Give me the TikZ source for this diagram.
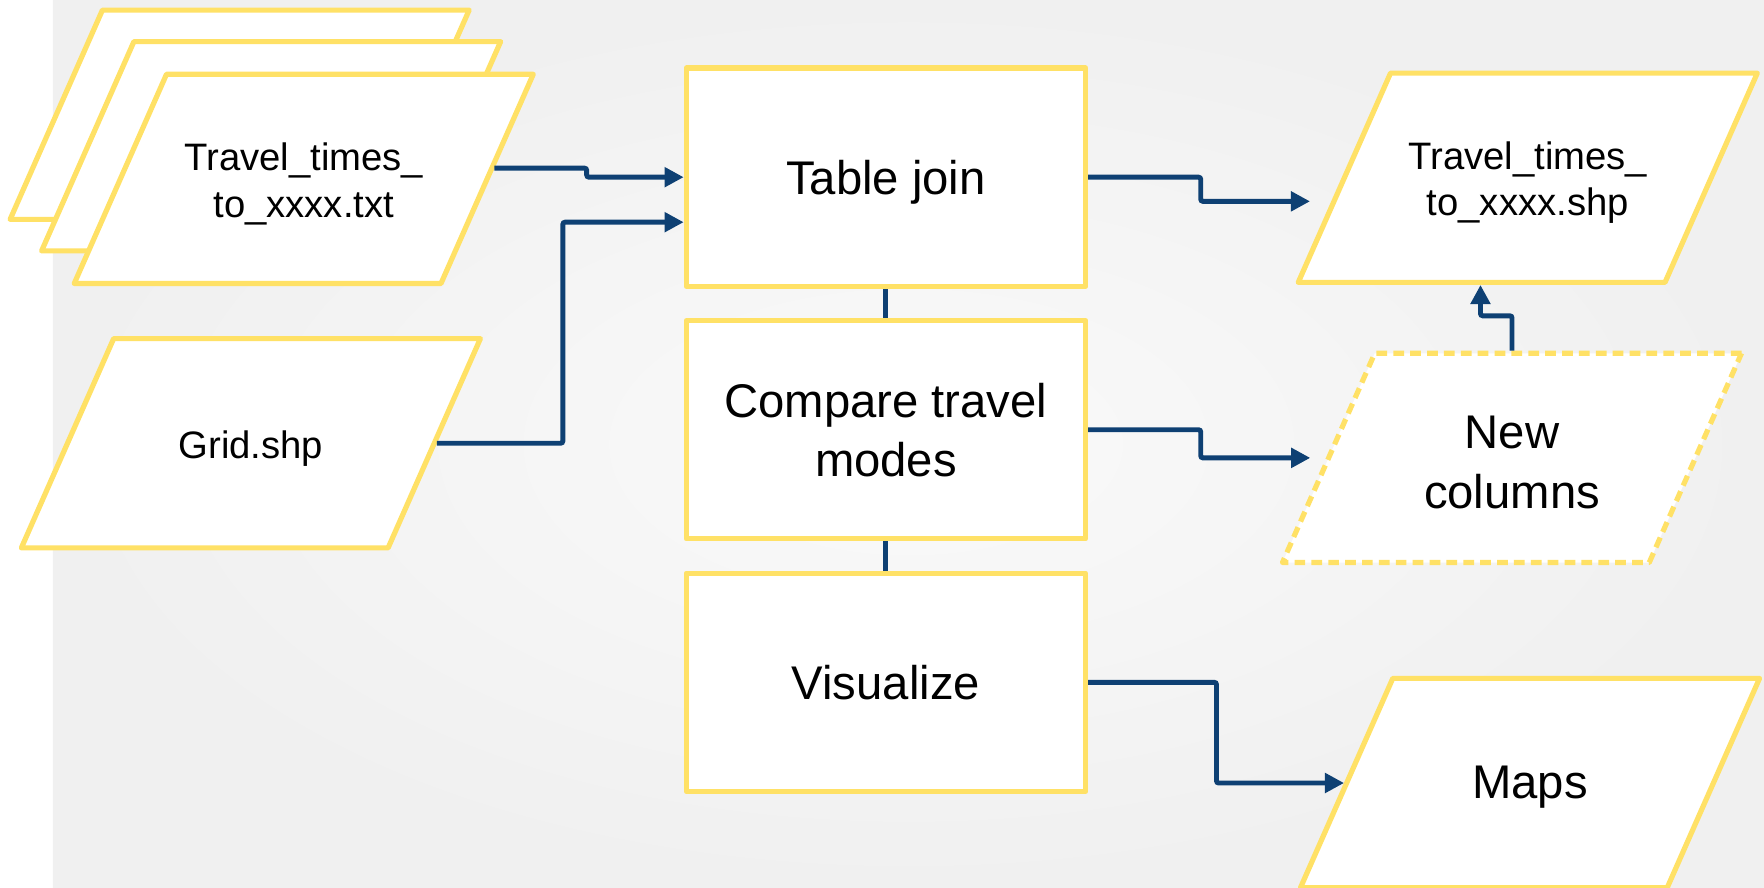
\documentclass[tikz,border=0pt]{standalone}
\usepackage{fontspec}
\setmainfont{Liberation Sans}
\usetikzlibrary{arrows.meta,calc}

\definecolor{boxyellow}{RGB}{255,225,102}
\definecolor{flowblue}{RGB}{14,64,115}
\definecolor{bglight}{RGB}{250,250,250}
\definecolor{bgdark}{RGB}{240,240,240}

\tikzset{
  process/.style={draw=boxyellow, fill=white, line width=4.6pt, line join=round,
    minimum width=355pt, minimum height=194pt, align=center, text depth=0pt,
    font=\fontsize{42}{53}\selectfont},
  dataset/.style={draw=boxyellow, fill=white, line width=4.6pt, line join=round,
    xslant=0.441, minimum width=326pt, minimum height=186pt, inner sep=0pt},
  newdata/.style={dataset, dash pattern=on 9.5pt off 5.5pt},
  smalltext/.style={align=center, yshift=-4.5pt, font=\fontsize{34}{41}\selectfont},
  bigtext/.style={align=center, yshift=-4pt, font=\fontsize{42}{53}\selectfont},
  flow/.style={draw=flowblue, line width=4.4pt, rounded corners=2pt,
    -{Triangle[length=17pt,width=17pt]}},
  link/.style={draw=flowblue, line width=4.4pt},
}

\begin{document}
\begin{tikzpicture}[x=1pt, y=-1pt]
  % background
  \useasboundingbox (0,0) rectangle (1568,789);
  \fill[white] (0,0) rectangle (47,789);
  \shade[inner color=bglight, outer color=bgdark] (47,0) rectangle (1568,789);

  % input data
  \node[dataset] (txt1) at (213,102) {};
  \node[dataset] (txt2) at (241,130) {};
  \node[dataset] (txt3) at (270,159) {};
  \node[smalltext] (txt3-label) at (txt3) {Travel\_times\_\\to\_xxxx.txt};
  \node[dataset] (grid) at (223,394) {};
  \node[smalltext] (grid-label) at (grid) {Grid.shp};

  % processing steps
  \node[process] (tjoin) at (787.5,157.5) {Table join};
  \node[process] (cmp) at (787.5,382) {Compare travel\\modes};
  \node[process] (vis) at (787.5,606.5) {Visualize};

  % outputs
  \node[dataset] (outshp) at (1358,158) {};
  \node[smalltext] (outshp-label) at (outshp) {Travel\_times\_\\to\_xxxx.shp};
  \node[newdata] (newcol) at (1344,407) {};
  \node[bigtext] (newcol-label) at (newcol) {New\\columns};
  \node[dataset] (maps) at (1360,696) {};
  \node[bigtext] (maps-label) at (maps) {Maps};

  \draw[link] (tjoin.south) -- (cmp.north);
  \draw[link] (cmp.south) -- (vis.north);

  \draw[flow] ($(txt3.south east)!0.55!(txt3.north east)$) -- ++(82,0) |- (tjoin.west);
  \draw[flow] (grid.east) -- ++(112,0) |- ($(tjoin.west)+(0,40)$);
  \draw[flow, shorten >=19pt] (tjoin.east) -- ++(100,0) |- ($(outshp.south west)!0.39!(outshp.north west)$);
  \draw[flow, shorten >=14pt] (cmp.east) -- ++(100,0) |- (newcol.west);
  \draw[flow] (vis.east) -- ++(114,0) |- (maps.west);
  \draw[flow] (newcol.center |- newcol.north) -- ++(0,-31) -| (outshp.south);
\end{tikzpicture}
\end{document}
